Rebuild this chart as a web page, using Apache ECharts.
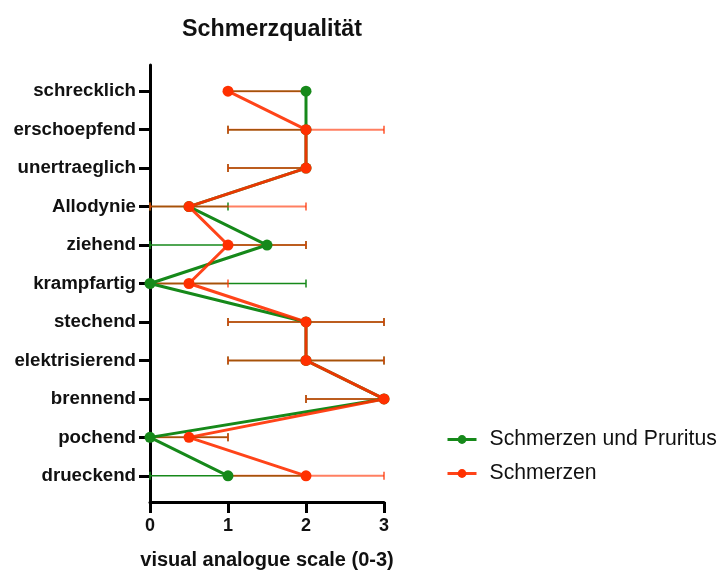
<!DOCTYPE html>
<html>
<head>
<meta charset="utf-8">
<script src="https://cdn.jsdelivr.net/npm/echarts@6/dist/echarts.min.js"></script>
<style>
  html, body { margin: 0; padding: 0; background: #fff; }
  #chart { width: 723px; height: 570px; }
</style>
</head>
<body>
<div id="chart"></div>
<script>
// Pain qualities, listed top to bottom
const categories = ['schrecklich', 'erschoepfend', 'unertraeglich', 'Allodynie', 'ziehend',
  'krampfartig', 'stechend', 'elektrisierend', 'brennend', 'pochend', 'drueckend'];

// Schmerzen und Pruritus: centre value with lower / upper error limits
const pruritusValues = [2, 2, 2, 0.5, 1.5, 0, 2, 2, 3, 0, 1];
const pruritusLow    = [1, 1, 1, 0,   0,   0, 1, 1, 2, 0, 0];
const pruritusHigh   = [2, 2, 2, 1,   2,   2, 3, 3, 3, 1, 2];

// Schmerzen: centre value with lower / upper error limits
const painValues = [1, 2, 2, 0.5, 1, 0.5, 2, 2, 3, 0.5, 2];
const painLow    = [1, 1, 1, 0,   1, 0,   1, 1, 2, 0,   1];
const painHigh   = [2, 3, 2, 2,   2, 1,   3, 3, 3, 1,   3];

const xTicks = [0, 1, 2, 3];

const GREEN = '#16891a';
const RED = '#ff3000';
const FONT = '"Liberation Sans", Arial, Helvetica, sans-serif';

const rowIdx = categories.map((_, i) => i);

function points(values) {
  return values.map((v, i) => [v, i]);
}

function errorData(values, low, high) {
  return values.map((v, i) => [v, i, low[i], high[i]]);
}

// Horizontal error bar with end caps
function errorBarRenderer(color, width) {
  return function (params, api) {
    const mean = api.value(0);
    const row = api.value(1);
    const lo = api.value(2);
    const hi = api.value(3);
    const pLo = api.coord([lo, row]);
    const pHi = api.coord([hi, row]);
    const cap = 4;
    const style = { stroke: color, lineWidth: width, fill: null };
    const children = [{
      type: 'line',
      shape: { x1: pLo[0], y1: pLo[1], x2: pHi[0], y2: pHi[1] },
      style: style
    }];
    if (lo !== mean) {
      children.push({ type: 'line', shape: { x1: pLo[0], y1: pLo[1] - cap, x2: pLo[0], y2: pLo[1] + cap }, style: style });
    }
    if (hi !== mean) {
      children.push({ type: 'line', shape: { x1: pHi[0], y1: pHi[1] - cap, x2: pHi[0], y2: pHi[1] + cap }, style: style });
    }
    return { type: 'group', children: children };
  };
}

const chart = echarts.init(document.getElementById('chart'), null, { renderer: 'canvas' });

chart.setOption({
  animation: false,
  backgroundColor: '#ffffff',
  textStyle: { fontFamily: FONT },
  title: {
    text: 'Schmerzqualität',
    left: 267,
    textAlign: 'center',
    top: 13,
    textStyle: { fontFamily: FONT, fontSize: 23.3, fontWeight: 'bold', color: '#111' }
  },
  legend: {
    orient: 'vertical',
    left: 441,
    top: 424,
    itemWidth: 29,
    itemHeight: 11,
    itemGap: 13,
    lineStyle: { width: 3 },
    data: ['Schmerzen und Pruritus', 'Schmerzen'],
    textStyle: { fontFamily: FONT, fontSize: 21.2, color: '#111', padding: [0, 0, 0, 8] }
  },
  grid: { left: 150, right: 339, top: 65, bottom: 68, outerBoundsMode: 'none', containLabel: false },
  xAxis: {
    type: 'value',
    min: 0,
    max: 3,
    interval: 1,
    name: 'visual analogue scale (0-3)',
    nameLocation: 'middle',
    nameGap: 48,
    nameTextStyle: { fontFamily: FONT, fontSize: 20, fontWeight: 'bold', color: '#111' },
    axisLine: { show: true, onZero: false, lineStyle: { color: '#000', width: 3 } },
    axisTick: { show: true, inside: false, length: 11, lineStyle: { color: '#000', width: 3 } },
    axisLabel: {
      margin: 15,
      fontFamily: FONT, fontSize: 18, fontWeight: 'bold', color: '#111',
      formatter: v => (xTicks.indexOf(v) >= 0 ? String(v) : '')
    },
    splitLine: { show: false }
  },
  yAxis: {
    type: 'value',
    inverse: true,
    min: -0.68,
    max: 10.68,
    axisLine: { show: true, onZero: false, lineStyle: { color: '#000', width: 3 } },
    axisTick: { show: true, inside: false, length: 11, customValues: rowIdx, lineStyle: { color: '#000', width: 3 } },
    axisLabel: {
      margin: 14,
      customValues: rowIdx,
      fontFamily: FONT, fontSize: 18.7, fontWeight: 'bold', color: '#111',
      formatter: v => categories[Math.round(v)] || ''
    },
    splitLine: { show: false }
  },
  series: [
    {
      name: 'Fehler Schmerzen und Pruritus',
      type: 'custom',
      renderItem: errorBarRenderer(GREEN, 1.5),
      data: errorData(pruritusValues, pruritusLow, pruritusHigh),
      encode: { x: [0, 2, 3], y: 1 },
      z: 1,
      silent: true
    },
    {
      name: 'Fehler Schmerzen',
      type: 'custom',
      renderItem: errorBarRenderer('rgba(255,48,0,0.62)', 2),
      data: errorData(painValues, painLow, painHigh),
      encode: { x: [0, 2, 3], y: 1 },
      z: 2,
      silent: true
    },
    {
      name: 'Schmerzen und Pruritus',
      type: 'line',
      data: points(pruritusValues),
      color: GREEN,
      symbol: 'circle',
      symbolSize: 11,
      lineStyle: { color: GREEN, width: 3 },
      itemStyle: { color: GREEN },
      z: 3
    },
    {
      name: 'Schmerzen',
      type: 'line',
      data: points(painValues),
      color: RED,
      symbol: 'circle',
      symbolSize: 11,
      lineStyle: { color: RED, width: 3, opacity: 0.9 },
      itemStyle: { color: RED },
      z: 4
    }
  ]
});
</script>
</body>
</html>
